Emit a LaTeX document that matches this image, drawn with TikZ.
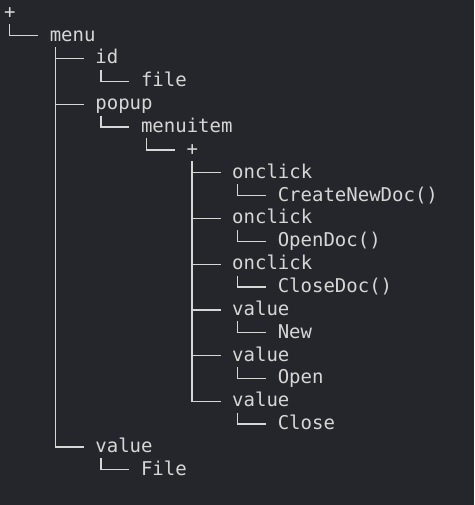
\documentclass[tikz,border=0pt]{standalone}
\usepackage{fontspec}
\setmonofont{DejaVu Sans Mono}
\definecolor{termbg}{RGB}{36,38,44}
\definecolor{termfg}{RGB}{214,214,214}
\begin{document}
\begin{tikzpicture}[x=11.4pt,y=-22.85pt,
    txt/.style={anchor=west,inner sep=0pt,text height=14pt,text depth=3pt,
        text=termfg,font=\fontsize{19}{23}\selectfont\ttfamily},
    branch/.style={draw=termfg,line width=1.3pt}]
    \fill[termbg] (-4pt,12.8pt) rectangle (470pt,-492.2pt);
    % tree labels, one row each
    \node[txt] (root) at (0,0) {+};
    \node[txt] (menu) at (4,1) {menu};
    \node[txt] (id) at (8,2) {id};
    \node[txt] (file) at (12,3) {file};
    \node[txt] (popup) at (8,4) {popup};
    \node[txt] (menuitem) at (12,5) {menuitem};
    \node[txt] (item) at (16,6) {+};
    \node[txt] (click1) at (20,7) {onclick};
    \node[txt] (create) at (24,8) {CreateNewDoc()};
    \node[txt] (click2) at (20,9) {onclick};
    \node[txt] (opendoc) at (24,10) {OpenDoc()};
    \node[txt] (click3) at (20,11) {onclick};
    \node[txt] (closedoc) at (24,12) {CloseDoc()};
    \node[txt] (val1) at (20,13) {value};
    \node[txt] (new) at (24,14) {New};
    \node[txt] (val2) at (20,15) {value};
    \node[txt] (open) at (24,16) {Open};
    \node[txt] (val3) at (20,17) {value};
    \node[txt] (close) at (24,18) {Close};
    \node[txt] (val) at (8,19) {value};
    \node[txt] (filev) at (12,20) {File};
    % branches
    \foreach \p/\c in {root/menu,menu/id,id/file,menu/popup,popup/menuitem,
        menuitem/item,item/click1,click1/create,item/click2,click2/opendoc,
        item/click3,click3/closedoc,item/val1,val1/new,item/val2,val2/open,
        item/val3,val3/close,menu/val,val/filev}
        \draw[branch] ([shift={(5.7pt,-11.4pt)}]\p.west) |- ([xshift=-11.4pt]\c.west);
\end{tikzpicture}
\end{document}
